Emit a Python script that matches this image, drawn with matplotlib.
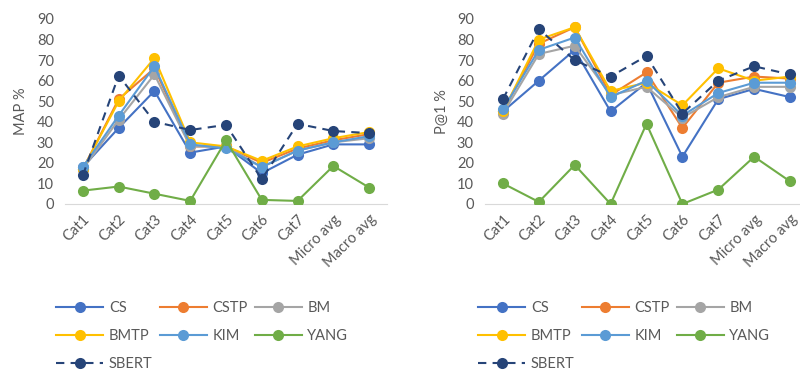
import matplotlib
matplotlib.use('Agg')
import matplotlib.pyplot as plt
from matplotlib.lines import Line2D

categories = ['Cat1', 'Cat2', 'Cat3', 'Cat4', 'Cat5', 'Cat6', 'Cat7', 'Micro avg', 'Macro avg']
series_names = ['CS', 'CSTP', 'BM', 'BMTP', 'KIM', 'YANG', 'SBERT']

# MAP % (left)
map_cs = [18, 37, 55, 25, 28, 15, 24, 29, 29]
map_cstp = [17, 51, 66, 28, 28, 20, 27, 31, 34]
map_bm = [17, 41, 63, 28, 28, 18, 26, 30, 32]
map_bmtp = [17, 50, 71, 30, 28, 21, 28, 32, 35]
map_kim = [18, 43, 67, 29, 27, 18, 26, 30, 33]
map_yang = [6.5, 8.5, 5, 1.5, 31, 2, 1.5, 18.5, 8]
map_sbert = [14, 62.5, 40, 36, 38.5, 12, 39, 35.5, 34.5]

# P@1 % (right)
p1_cs = [45, 60, 75, 45, 59, 23, 51, 56, 52]
p1_cstp = [45, 78, 86, 53, 64, 37, 59, 62, 61]
p1_bm = [44, 73, 77, 53, 57, 42, 52, 57, 57]
p1_bmtp = [45, 80, 86, 55, 59, 48, 66, 60, 62]
p1_kim = [46, 75, 81, 52, 60, 43, 54, 59, 59]
p1_yang = [10, 1, 19, 0, 39, 0, 7, 23, 11]
p1_sbert = [51, 85, 70, 62, 72, 44, 60, 67, 63]

colors = ['#4472C4', '#ED7D31', '#A5A5A5', '#FFC000', '#5B9BD5', '#70AD47', '#264478']
text_color = '#595959'

plt.rcParams['font.family'] = ['Lato', 'DejaVu Sans']

fig = plt.figure(figsize=(8, 3.72), dpi=100)
ax_left = fig.add_axes([65 / 800, 1 - 204 / 372, 322 / 800, 185 / 372])
ax_right = fig.add_axes([485 / 800, 1 - 204 / 372, 323 / 800, 185 / 372])


def draw(ax, data, ylabel):
    x = list(range(len(categories)))
    for i in range(len(series_names)):
        ls = (0, (4, 3)) if series_names[i] == 'SBERT' else '-'
        ax.plot(x, data[i], color=colors[i], linestyle=ls, linewidth=1.5,
                marker='o', markersize=8, markeredgewidth=0, zorder=2 + i)
    ax.set_xlim(-0.5, len(categories) - 0.5)
    ax.set_ylim(0, 90)
    ax.set_yticks(range(0, 91, 10))
    ax.set_xticks(x)
    ax.set_xticklabels(categories, rotation=45, ha='right', rotation_mode='anchor',
                       fontsize=10.5, color=text_color)
    ax.tick_params(axis='y', length=0, labelsize=10.5, labelcolor=text_color, pad=8)
    ax.tick_params(axis='x', length=0, pad=6)
    for s in ['top', 'right', 'left']:
        ax.spines[s].set_visible(False)
    ax.spines['bottom'].set_color('#D9D9D9')
    ax.set_ylabel(ylabel, fontsize=10.5, color=text_color, labelpad=6)


draw(ax_left, [map_cs, map_cstp, map_bm, map_bmtp, map_kim, map_yang, map_sbert], 'MAP %')
draw(ax_right, [p1_cs, p1_cstp, p1_bm, p1_bmtp, p1_kim, p1_yang, p1_sbert], 'P@1 %')

# legend order so rows read CS CSTP BM / BMTP KIM YANG / SBERT
order = [0, 3, 6, 1, 4, 2, 5]
for x0 in [49 / 800, 471 / 800]:
    handles = []
    labels = []
    for i in order:
        ls = (0, (4, 3)) if series_names[i] == 'SBERT' else '-'
        handles.append(Line2D([], [], color=colors[i], linestyle=ls, linewidth=1.5,
                              marker='o', markersize=8, markeredgewidth=0))
        labels.append(series_names[i])
    fig.legend(handles, labels, loc='upper left', bbox_to_anchor=(x0, 1 - 294 / 372),
               ncol=3, frameon=False, fontsize=10.5, labelcolor=text_color,
               handlelength=3.2, handletextpad=0.4, columnspacing=0.5,
               labelspacing=0.95, borderpad=0)

plt.savefig('out.png', dpi=100)
